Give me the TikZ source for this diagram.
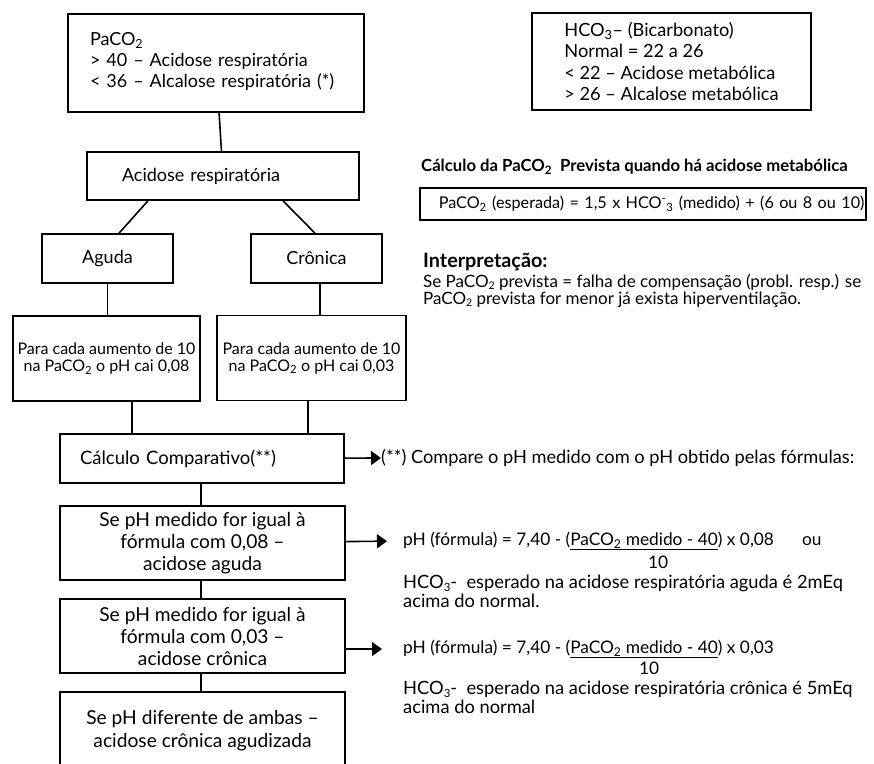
\documentclass[tikz,border=0pt]{standalone}
\usepackage{fontspec}
\setmainfont{Lato}
\usetikzlibrary{arrows.meta}
\newcommand\fs[2]{\fontsize{#1}{#2}\selectfont}
\newcommand\lowsub[1]{\raisebox{-0.3ex}{\fontsize{0.62em}{0.62em}\selectfont #1}}
\newcommand\hcominus{HCO\textsuperscript{-}\textsubscript{3}}
\tikzset{
  box/.style={draw, line width=1.6pt, inner sep=0pt},
  link/.style={line width=1.6pt},
  pointer/.style={line width=1.6pt, -{Triangle[length=10pt,width=14pt]}},
  txt/.style={inner sep=0pt, anchor=west, align=left, font=\fs{18}{21}},
}
\begin{document}
\begin{tikzpicture}[x=1pt,y=-1pt]
\useasboundingbox (0,0) rectangle (874,763);
\clip (0,0) rectangle (874,763);

% left column: flow of boxes
\node[box, text width=252pt, inner xsep=22pt, minimum height=98pt, align=left, font=\fs{18}{21}]
  (pa) at (216,63) {PaCO\textsubscript{2}\\> 40 – Acidose respiratória\\< 36 – Alcalose respiratória (*)\\[-14pt]\mbox{}};
\node[box, text width=202pt, inner xsep=35pt, minimum height=48pt, align=left, font=\fs{18}{21}]
  (acid) at (223,176) {Acidose respiratória};
\node[box, minimum width=131pt, minimum height=49pt, font=\fs{18}{21}] (ag) at (107.5,258.5) {Aguda};
\node[box, minimum width=131pt, minimum height=49pt, font=\fs{18}{21}] (cr) at (316.5,258.5) {Crônica};
\node[box, minimum width=187pt, minimum height=85pt, align=center, font=\fs{16}{17}]
  (pag) at (106.5,358.5) {Para cada aumento de 10\\na PaCO\textsubscript{2} o pH cai 0,08};
\node[box, minimum width=189pt, minimum height=85pt, align=center, font=\fs{16}{17}]
  (pcr) at (311.5,358) {Para cada aumento de 10\\na PaCO\textsubscript{2} o pH cai 0,03};
\node[box, text width=244pt, inner xsep=20pt, minimum height=49pt, align=left, font=\fs{18.5}{21}]
  (calc) at (202,458.5) {Cálculo Comparativo(**)};
\node[box, minimum width=285pt, minimum height=74pt, align=center, font=\fs{19.2}{22}]
  (agu) at (202.5,543) {Se pH medido for igual à\\fórmula com 0,08 –\\acidose aguda};
\node[box, minimum width=285pt, minimum height=74pt, align=center, font=\fs{19.2}{22}]
  (cro) at (202.5,636) {Se pH medido for igual à\\fórmula com 0,03 –\\acidose crônica};
\node[box, minimum width=285pt, minimum height=96pt, align=center, font=\fs{19.2}{23}]
  (amb) at (202.5,740) {Se pH diferente de ambas –\\acidose crônica agudizada\\\mbox{}};

\draw[link] (pa) -- (acid);
\draw[link] (acid.south -| 148,0) -- (ag.north -| 119,0);
\draw[link] (acid.south -| 283,0) -- (cr.north -| 315,0);
\draw[link] (ag) -- (pag.north -| ag.south);
\draw[link] (cr.south -| 320,0) -- (pcr.north -| 320,0);
\draw[link] (pag.south -| 132,0) -- (calc.north -| 132,0);
\draw[link] (pcr.south -| 308,0) -- (calc.north -| 308,0);
\draw[link] (calc.south -| 201,0) -- (agu.north -| 201,0);
\draw[link] (agu.south -| 201,0) -- (cro.north -| 201,0);
\draw[link] (cro.south -| 201,0) -- (amb.north -| 201,0);

% right column: reference values and formulas
\node[box, minimum width=279pt, minimum height=97pt, align=left, font=\fs{18.2}{21.5}]
  (hco) at (671.5,61.5) {HCO\textsubscript{3}– (Bicarbonato)\\Normal = 22 a 26\\< 22 – Acidose metabólica\\> 26 – Alcalose metabólica};

\node[txt, font=\fs{16.7}{18}\bfseries] (calct) at (421,167)
  {Cálculo da PaCO\textsubscript{2}\ \ Prevista quando há acidose metabólica};
\node[box, text width=446pt, minimum height=32pt, align=left, anchor=west, font=\fs{16.2}{18}]
  (esp) at (419,204) {\hspace*{19pt}PaCO\textsubscript{2} (esperada) = 1,5 x \hcominus{} (medido) + (6 ou 8 ou 10)};

\node[txt, font=\fs{19.8}{20}\bfseries] (interp) at (423,262) {Interpretação:};
\node[txt, font=\fs{17}{17}] (interpt) at (423,290.5)
  {Se PaCO\lowsub{2} prevista = falha de compensação (probl. resp.) se\\PaCO\lowsub{2} prevista for menor já exista hiperventilação.};

\node[txt, font=\fs{18.2}{21}] (cmp) at (381,458) {(**) Compare o pH medido com o pH obtido pelas fórmulas:};
\draw[pointer] (calc) -- (cmp.west);

\node[txt, font=\fs{17.3}{21}] (f1) at (403,541)
  {pH (fórmula) = 7,40 - (\underline{PaCO\textsubscript{2} medido - 40}) x 0,08\hspace{28pt}ou};
\node[txt, font=\fs{17.3}{21}] (d1) at (648,562) {10};
\node[txt, font=\fs{18.3}{19.5}] (h1) at (403,591.5)
  {HCO\lowsub{3}- \ esperado na acidose respiratória aguda é 2mEq\\acima do normal.};
\draw[pointer] (agu) -- (f1.west) [shorten >=16pt];

\node[txt, font=\fs{17.3}{21}] (f2) at (403,649)
  {pH (fórmula) = 7,40 - (\underline{PaCO\textsubscript{2} medido - 40}) x 0,03};
\node[txt, font=\fs{17.3}{21}] (d2) at (639,668) {10};
\node[txt, font=\fs{18.3}{19.5}] (h2) at (403,697.5)
  {HCO\lowsub{3}- \ esperado na acidose respiratória crônica é 5mEq\\acima do normal};
\draw[pointer] (cro.east |- f2.west) -- (f2.west) [shorten >=21pt];
\end{tikzpicture}
\end{document}
